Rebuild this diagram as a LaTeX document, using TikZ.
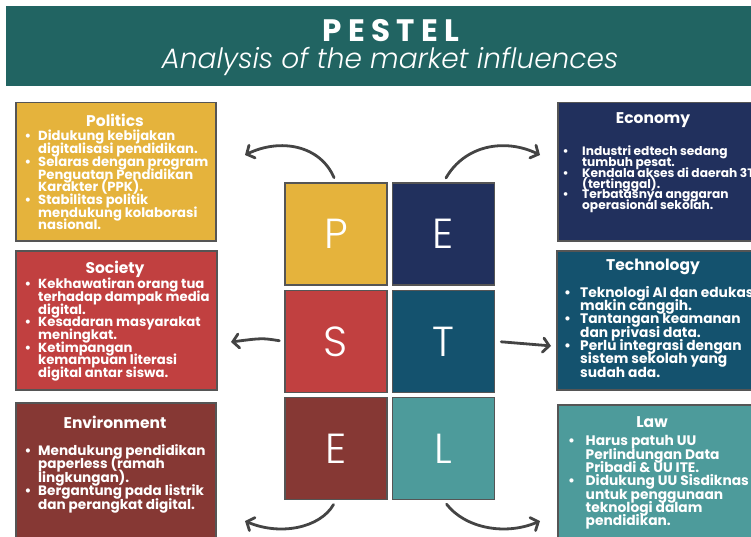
\documentclass[tikz,border=0pt]{standalone}
\usepackage{fontspec}
\setmainfont{Poppins}
\newfontfamily\poplight{Poppins Light}[ItalicFont=Poppins Light Italic]
\usetikzlibrary{arrows.meta}
\definecolor{bannerc}{HTML}{216462}
\definecolor{polc}{HTML}{E5B33C}
\definecolor{socc}{HTML}{C14040}
\definecolor{envc}{HTML}{863834}
\definecolor{ecoc}{HTML}{21305D}
\definecolor{tecc}{HTML}{14526E}
\definecolor{lawc}{HTML}{4D9B9B}
\definecolor{edgec}{HTML}{555555}
\definecolor{arrowc}{HTML}{444444}
\newcommand\pb[1]{\makebox[#1pt][l]{\textbullet}}
\newcommand\pc[1]{\hspace*{#1pt}}
\newcommand\bodyfont[2]{\bfseries\fontsize{#1}{#2}\selectfont\lineskiplimit=-30pt\lineskip=0pt}
\begin{document}
\begin{tikzpicture}[x=1pt,y=-1pt,
  boxst/.style={draw=edgec, line width=1.5pt, inner sep=0pt, anchor=north west},
  sq/.style={draw=edgec, line width=1.5pt, minimum size=102pt, inner sep=0pt, text=white, font=\poplight\fontsize{42}{42}\selectfont},
  ttl/.style={text=white, inner sep=0pt, font=\bfseries\fontsize{15.5}{17}\selectfont},
  body/.style={text=white, inner sep=0pt, anchor=north west, align=left},
  arr/.style={draw=arrowc, line width=2.8pt, line cap=round, -{Straight Barb[length=6pt,width=14pt,line cap=round]}}
]
\useasboundingbox (0,0) rectangle (751,537);
\clip (0,0) rectangle (751,537);
% banner
\node[fill=bannerc, minimum width=760pt, minimum height=80pt, inner sep=0pt, anchor=north west] (banner) at (6,6) {};
\node[text=white, inner sep=0pt, font=\bfseries\fontsize{31}{31}\selectfont\addfontfeature{LetterSpace=20}] (ttlmain) at (391,31) {PESTEL};
\node[text=white, inner sep=0pt, font=\poplight\itshape\fontsize{28}{28}\selectfont] (ttlsub) at (390,62) {Analysis of the market influences};

% boxes
\node[boxst, fill=polc, minimum width=200pt, minimum height=138pt] (bxP) at (15,102) {};
\node[boxst, fill=socc, minimum width=201pt, minimum height=139pt] (bxS) at (15,250) {};
\node[boxst, fill=envc, minimum width=200pt, minimum height=160pt] (bxEn) at (15,402) {};
\node[boxst, fill=ecoc, minimum width=210pt, minimum height=138pt] (bxEc) at (557,102) {};
\node[boxst, fill=tecc, minimum width=210pt, minimum height=139pt] (bxT) at (556,250) {};
\node[boxst, fill=lawc, minimum width=210pt, minimum height=160pt] (bxL) at (557,404) {};

% titles
\node[ttl] (tP) at (115,120) {Politics};
\node[ttl] (tS) at (115,269) {Society};
\node[ttl] (tEn) at (115,422) {Environment};
\node[ttl] (tEc) at (653,120) {Economy};
\node[ttl] (tT) at (653,267) {Technology};
\node[ttl] (tL) at (652,422) {Law};

% bodies
\node[body, font=\bodyfont{13.2}{12.7}] (bP) at (24.5,130.2) {%
\pb{13.5}Didukung kebijakan\\ \pc{13.5}digitalisasi pendidikan.\\
\pb{13.5}Selaras dengan program\\ \pc{13.5}Penguatan Pendidikan\\ \pc{13.5}Karakter (PPK).\\
\pb{13.5}Stabilitas politik\\ \pc{13.5}mendukung kolaborasi\\ \pc{13.5}nasional.};
\node[body, font=\bodyfont{13.2}{12.7}] (bS) at (24.5,278) {%
\pb{13.5}Kekhawatiran orang tua\\ \pc{13.5}terhadap dampak media\\ \pc{13.5}digital.\\
\pb{13.5}Kesadaran masyarakat\\ \pc{13.5}meningkat.\\
\pb{13.5}Ketimpangan\\ \pc{13.5}kemampuan literasi\\ \pc{13.5}digital antar siswa.};
\node[body, font=\bodyfont{13.6}{13.4}] (bEn) at (24.5,444.5) {%
\pb{13.5}Mendukung pendidikan\\ \pc{13.5}paperless (ramah\\ \pc{13.5}lingkungan).\\
\pb{13.5}Bergantung pada listrik\\ \pc{13.5}dan perangkat digital.};
\node[body, font=\bodyfont{12.2}{10.7}] (bEc) at (562.5,146) {%
\pb{19.5}Industri edtech sedang\\ \pc{19.5}tumbuh pesat.\\
\pb{19.5}Kendala akses di daerah 3T\\ \pc{19.5}(tertinggal).\\
\pb{19.5}Terbatasnya anggaran\\ \pc{19.5}operasional sekolah.};
\node[body, font=\bodyfont{13.8}{13.3}] (bT) at (564,286) {%
\pb{16}Teknologi AI dan edukasi\\ \pc{16}makin canggih.\\
\pb{16}Tantangan keamanan\\ \pc{16}dan privasi data.\\
\pb{16}Perlu integrasi dengan\\ \pc{16}sistem sekolah yang\\ \pc{16}sudah ada.};
\node[body, font=\bodyfont{13.8}{13.3}] (bL) at (568,435.5) {%
\pb{17.5}Harus patuh UU\\ \pc{17.5}Perlindungan Data\\ \pc{17.5}Pribadi \& UU ITE.\\
\pb{17.5}Didukung UU Sisdiknas\\ \pc{17.5}untuk penggunaan\\ \pc{17.5}teknologi dalam\\ \pc{17.5}pendidikan.};

% centre squares
\node[sq, fill=polc] (sqP) at (336,234) {P};
\node[sq, fill=ecoc] (sqEc) at (443.5,234) {E};
\node[sq, fill=socc] (sqS) at (336,341.5) {S};
\node[sq, fill=tecc] (sqT) at (443.5,341.5) {T};
\node[sq, fill=envc] (sqEn) at (336,448.5) {E};
\node[sq, fill=lawc] (sqL) at (443.5,448.5) {L};

% arrow end points
\coordinate (aP) at (245,155);
\coordinate (aEc) at (540,155);
\coordinate (aS) at (231,342);
\coordinate (aT) at (551,346);
\coordinate (aEn) at (245,521);
\coordinate (aL) at (540,521);

\draw[arr, shorten <=5pt] (sqP.north) .. controls (320,145) and (280,138) .. (aP);
\draw[arr, shorten <=5pt] (sqEc.north) .. controls (465,145) and (505,138) .. (aEc);
\draw[arr, shorten <=5pt] (sqS.west) .. controls (262,338) .. (aS);
\draw[arr, shorten <=6pt] (sqT.east) .. controls (525,343) .. (aT);
\draw[arr, shorten <=5pt] (sqEn.south) .. controls (320,528) and (280,536) .. (aEn);
\draw[arr, shorten <=5pt] (sqL.south) .. controls (465,528) and (505,536) .. (aL);
\end{tikzpicture}
\end{document}
